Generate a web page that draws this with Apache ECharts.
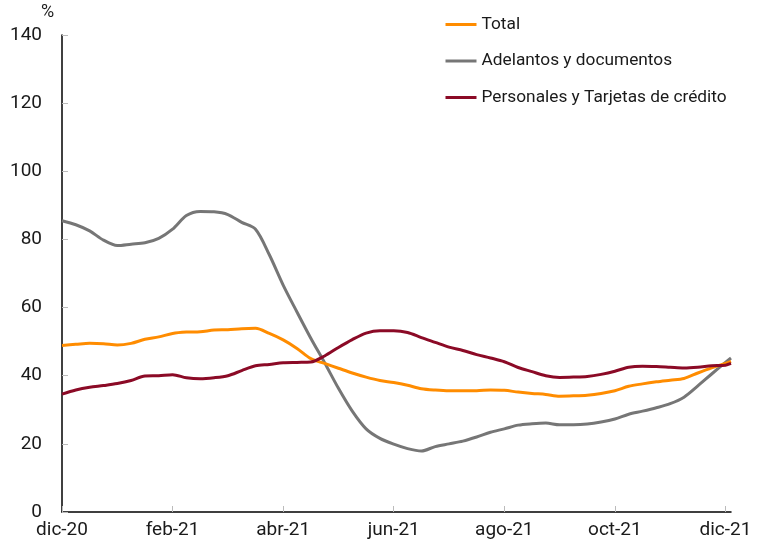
<!DOCTYPE html>
<html>
<head>
<meta charset="utf-8">
<script src="https://cdn.jsdelivr.net/npm/echarts@6/dist/echarts.min.js"></script>
<style>html,body{margin:0;padding:0;background:#fff}#c{width:764px;height:546px}</style>
</head>
<body>
<div id="c"></div>
<script>
// x position in months since 1 Dec 2020
var months = [0,0.25,0.5,0.75,1,1.25,1.5,1.75,2,2.25,2.5,2.75,3,3.25,3.5,3.75,4,4.25,4.5,4.75,5,5.25,5.5,5.75,6,6.25,6.5,6.75,7,7.25,7.5,7.75,8,8.25,8.5,8.75,9,9.25,9.5,9.75,10,10.25,10.5,10.75,11,11.25,11.5,11.75,12,12.1];
var xTickLabels = ['dic-20','feb-21','abr-21','jun-21','ago-21','oct-21','dic-21'];
var seriesNames = ['Total','Adelantos y documentos','Personales y Tarjetas de crédito'];
var total = [48.9,49.2,49.5,49.4,49.0,49.5,50.7,51.4,52.4,52.8,52.9,53.4,53.5,53.8,53.9,52.4,50.5,48.0,45.0,43.6,42.2,40.8,39.6,38.6,38.0,37.2,36.2,35.8,35.6,35.6,35.6,35.8,35.7,35.2,34.8,34.5,34.0,34.1,34.3,34.8,35.6,36.9,37.6,38.2,38.7,39.2,40.8,42.3,43.6,44.2];
var adelantos = [85.5,84.3,82.5,79.8,78.2,78.6,79.0,80.3,83.0,87.0,88.2,88.1,87.3,85.0,83.0,75.5,66.6,58.7,51.0,43.8,36.3,29.6,24.4,21.6,19.9,18.6,17.9,19.2,20.0,20.8,22.0,23.4,24.4,25.5,25.9,26.1,25.6,25.6,25.8,26.4,27.3,28.7,29.6,30.6,31.8,33.7,37.0,40.5,43.9,45.2];
var personales = [34.6,35.8,36.6,37.1,37.7,38.6,39.9,40.0,40.3,39.4,39.1,39.4,40.0,41.5,42.9,43.3,43.8,43.9,44.0,45.8,48.3,50.6,52.5,53.2,53.2,52.7,51.2,49.8,48.4,47.4,46.2,45.2,44.1,42.4,41.2,40.0,39.5,39.6,39.8,40.4,41.3,42.5,42.8,42.7,42.5,42.3,42.5,42.9,43.1,43.6];
var colors = ['#FF8C00','#767676','#8B0A26'];

function pairs(vals){ return months.map(function(m,i){ return [m, vals[i]]; }); }

var chart = echarts.init(document.getElementById('c'), null, {renderer:'canvas'});
var font = 'Roboto, "Liberation Sans", sans-serif';
var seriesData = [total, adelantos, personales];
chart.setOption({
  animation:false,
  color: colors,
  grid:{left:62,right:33,top:35,bottom:34,containLabel:false},
  legend:{
    orient:'vertical', left:439, top:11,
    itemWidth:31, itemHeight:17, itemGap:19.5,
    itemStyle:{opacity:0},
    lineStyle:{width:3},
    textStyle:{fontFamily:font,fontSize:17.3,color:'#1a1a1a'},
    data: seriesNames
  },
  graphic:[{type:'text',left:41,top:3,style:{text:'%',fontFamily:font,fontSize:18,fill:'#1a1a1a'}}],
  xAxis:{
    type:'value', min:0, max:12.1,
    axisLine:{show:true,onZero:false,lineStyle:{color:'#000',width:1.5}},
    axisTick:{show:true,inside:true,length:6,lineStyle:{color:'#bbbbbb'},customValues:[0,2,4,6,8,10,12]},
    axisLabel:{fontFamily:font,fontSize:19,color:'#1a1a1a',margin:9,customValues:[0,2,4,6,8,10,12],
      formatter:function(v){ var i=Math.round(v/2); return xTickLabels[i]||''; }},
    splitLine:{show:false}
  },
  yAxis:{
    type:'value', min:0, max:140, interval:20,
    axisLine:{show:true,lineStyle:{color:'#000',width:1.5}},
    axisTick:{show:true,inside:true,length:6,lineStyle:{color:'#bbbbbb'}},
    axisLabel:{fontFamily:font,fontSize:19,color:'#1a1a1a',margin:20},
    splitLine:{show:false}
  },
  series: seriesNames.map(function(n,i){
    return {name:n,type:'line',data:pairs(seriesData[i]),symbol:'none',smooth:0.3,
      lineStyle:{width:3,color:colors[i]},itemStyle:{color:colors[i]},z:[2,1,3][i]};
  })
});
</script>
</body>
</html>
